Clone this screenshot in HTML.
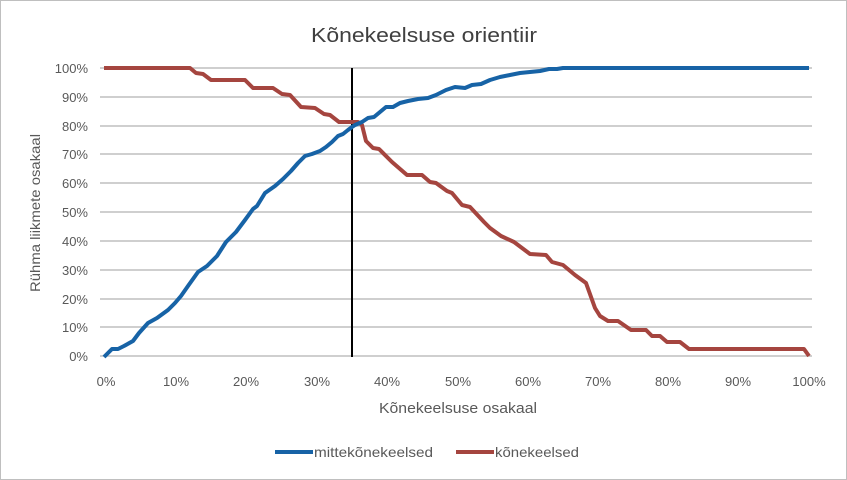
<!DOCTYPE html>
<html><head><meta charset="utf-8"><style>
html,body{margin:0;padding:0;background:#fff;}
svg{display:block;font-family:"Liberation Sans",sans-serif;}
</style></head><body>
<svg width="847" height="480" viewBox="0 0 847 480" xmlns="http://www.w3.org/2000/svg">
<rect x="0.5" y="0.5" width="846" height="479" fill="#fff" stroke="#bfbfbf"/>
<text x="424" y="42" font-size="20" fill="#404040" text-anchor="middle" textLength="226" lengthAdjust="spacingAndGlyphs">Kõnekeelsuse  orientiir</text>
<g stroke="#bfbfbf" stroke-width="1.5">
<line x1="100" y1="68" x2="812" y2="68"/><line x1="100" y1="97" x2="812" y2="97"/>
<line x1="100" y1="126" x2="812" y2="126"/><line x1="100" y1="154" x2="812" y2="154"/>
<line x1="100" y1="183" x2="812" y2="183"/><line x1="100" y1="212" x2="812" y2="212"/>
<line x1="100" y1="241" x2="812" y2="241"/><line x1="100" y1="270" x2="812" y2="270"/>
<line x1="100" y1="299" x2="812" y2="299"/><line x1="100" y1="327" x2="812" y2="327"/>
<line x1="100" y1="356" x2="812" y2="356"/>
</g>
<g font-size="13" fill="#595959" text-anchor="end">
<text x="88" y="73">100%</text><text x="88" y="102">90%</text><text x="88" y="131">80%</text>
<text x="88" y="159">70%</text><text x="88" y="188">60%</text><text x="88" y="217">50%</text>
<text x="88" y="246">40%</text><text x="88" y="275">30%</text><text x="88" y="304">20%</text>
<text x="88" y="332">10%</text><text x="88" y="361">0%</text>
</g>
<g font-size="13" fill="#595959" text-anchor="middle">
<text x="106" y="386">0%</text><text x="176" y="386">10%</text><text x="246" y="386">20%</text>
<text x="317" y="386">30%</text><text x="387" y="386">40%</text><text x="458" y="386">50%</text>
<text x="528" y="386">60%</text><text x="598" y="386">70%</text><text x="668" y="386">80%</text>
<text x="738" y="386">90%</text><text x="809" y="386">100%</text>
</g>
<text x="458" y="413" font-size="15" fill="#595959" text-anchor="middle" textLength="158" lengthAdjust="spacingAndGlyphs">Kõnekeelsuse osakaal</text>
<text transform="translate(40,213) rotate(-90)" font-size="14" fill="#595959" text-anchor="middle" textLength="158" lengthAdjust="spacingAndGlyphs">Rühma liikmete osakaal</text>
<line x1="352" y1="68" x2="352" y2="357" stroke="#000" stroke-width="2"/>
<polyline fill="none" stroke="#a5453f" stroke-width="4" stroke-linejoin="round" points="104,68 190,68 196,73 203,74 211,80 245,80 253,88 273,88 282,94 290,95 301,107 315,108 324,114 330,115 339,122 358,122 362,125 366,141 373,148 379,149 392,162 407,175 422,175 430,182 436,183 447,191 452,193 462,205 470,207 484,222 490,228 501,236 514,242 530,254 546,255 552,262 563,265 575,275 586,283 595,308 600,316 608,321 618,321 631,330 646,330 652,336 660,336 667,342 680,342 689,349 804,349 809,356"/>
<polyline fill="none" stroke="#1763a6" stroke-width="4" stroke-linejoin="round" points="104,357 112,349 118,349 124,346 133,341 139,333 148,323 157,318 168,310 175,303 181,296 188,286 198,272 207,266 217,256 226,242 236,232 245,220 253,209 257,206 265,193 275,186 283,179 291,171 298,163 305,156 312,154 320,151 326,147 332,142 338,136 343,134 348,130 352,127 355,125 362,122 368,118 374,117 380,112 386,107 393,107 400,103 408,101 418,99 428,98 436,95 446,90 455,87 465,88 472,85 481,84 490,80 500,77 510,75 520,73 530,72 540,71 549,69 557,69 563,68 809,68"/>
<line x1="275" y1="452" x2="313" y2="452" stroke="#1763a6" stroke-width="4"/>
<text x="314" y="457" font-size="14" fill="#595959" textLength="119" lengthAdjust="spacingAndGlyphs">mittekõnekeelsed</text>
<line x1="456" y1="452" x2="494" y2="452" stroke="#a5453f" stroke-width="4"/>
<text x="495" y="457" font-size="14" fill="#595959" textLength="84" lengthAdjust="spacingAndGlyphs">kõnekeelsed</text>
</svg>
</body></html>
